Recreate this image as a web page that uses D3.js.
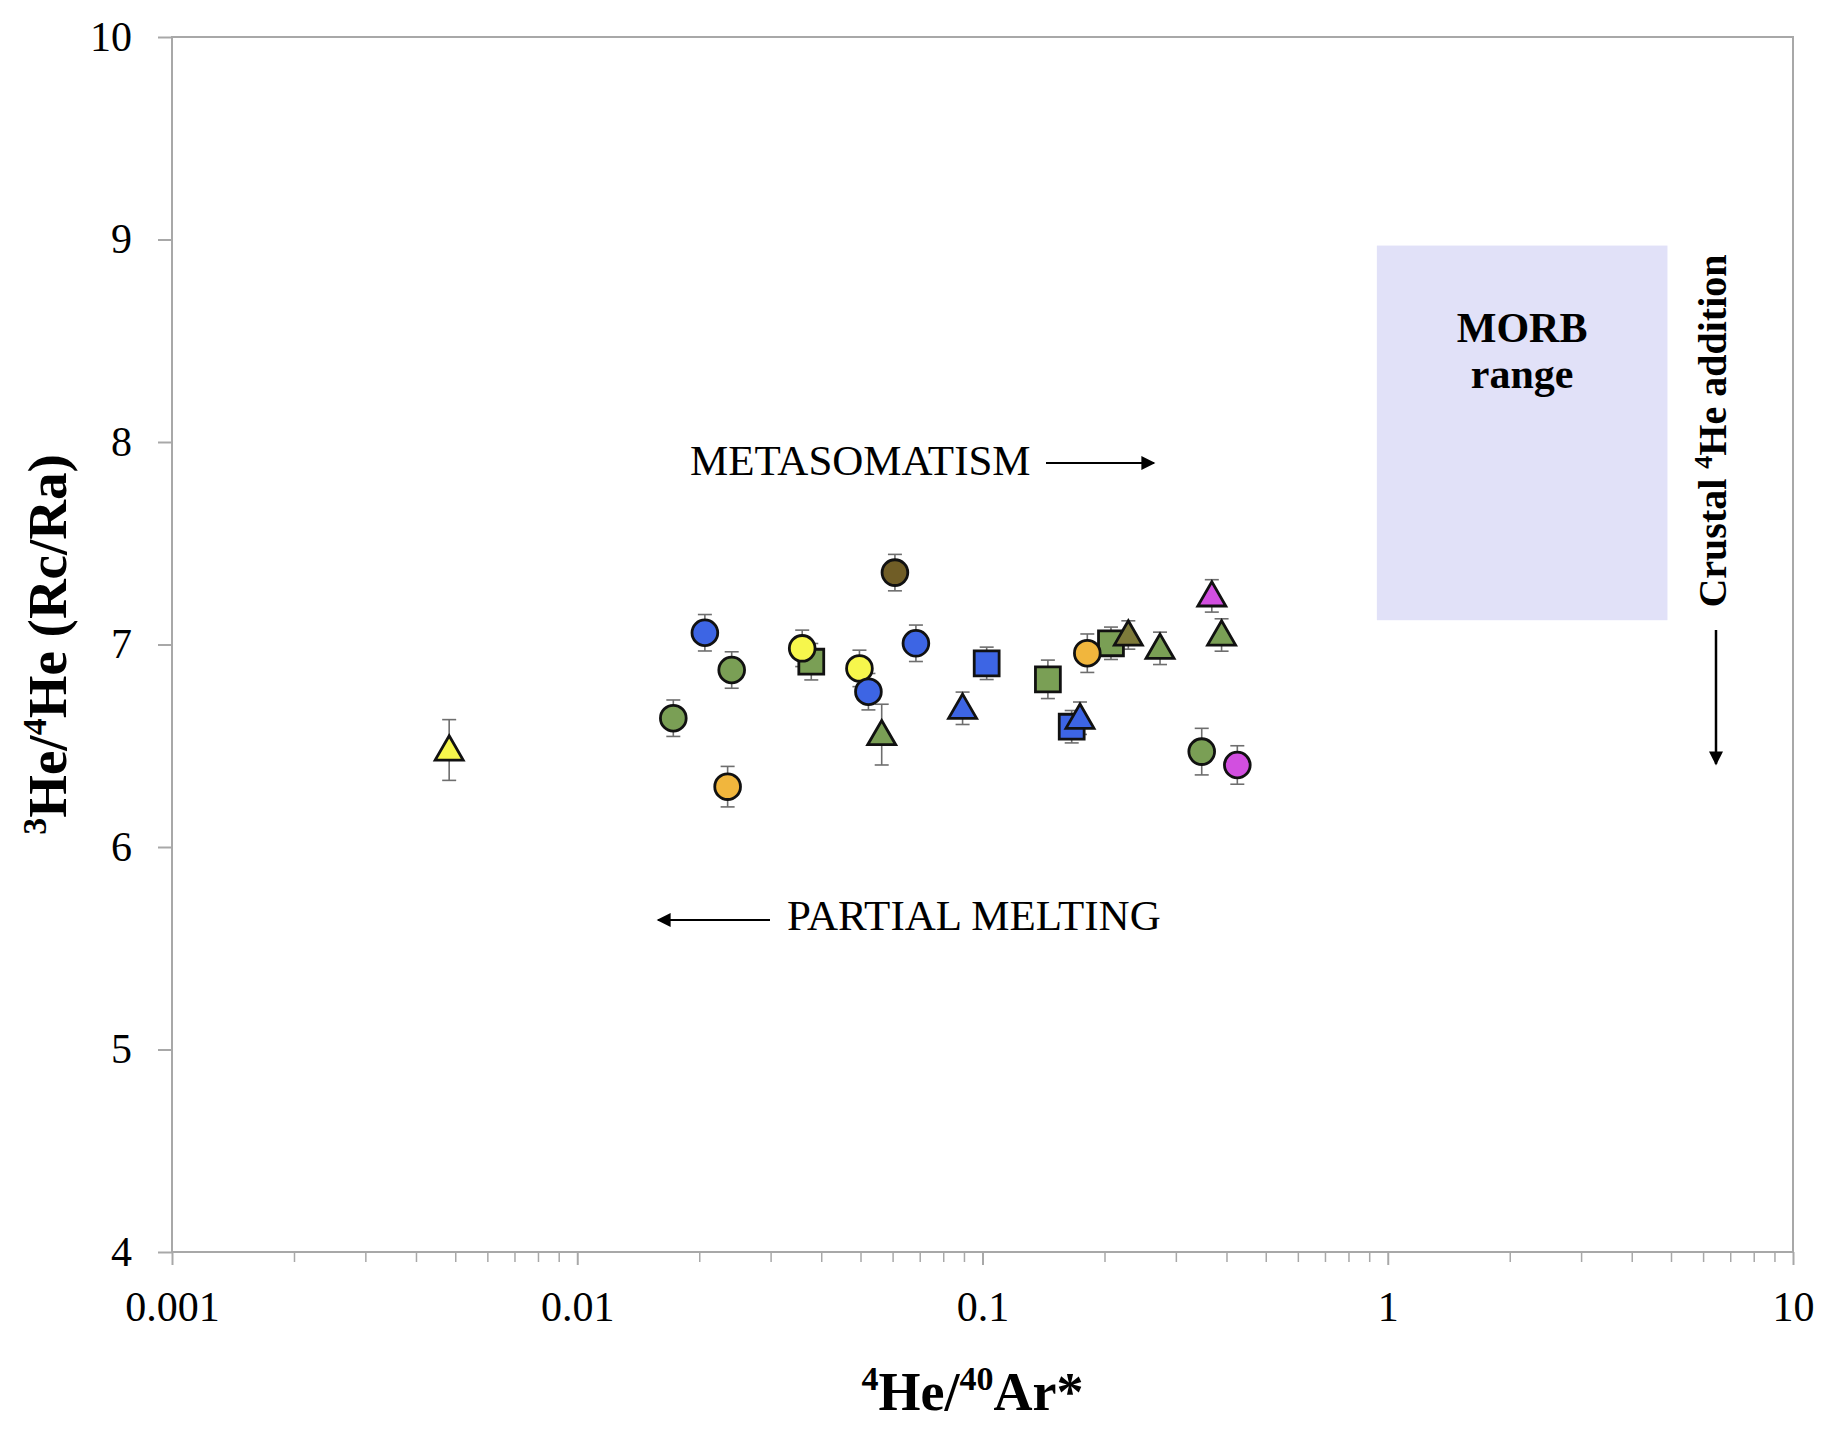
<!DOCTYPE html>
<html>
<head>
<meta charset="utf-8">
<script src="https://cdn.jsdelivr.net/npm/d3@7"></script>
<style>
  html, body { margin: 0; padding: 0; background: #fff; }
  svg text { font-family: "Liberation Serif", "Times New Roman", serif; fill: #000; }
</style>
</head>
<body>
<svg id="chart"></svg>
<script>
// Sample groups (marker shape + colour), drawn in this order
const groups = [
    "square-green", "square-green", "square-green",
    "square-blue", "square-blue",
    "circle-green", "circle-green", "circle-green",
    "circle-orange", "circle-orange",
    "circle-yellow", "circle-yellow",
    "circle-blue", "circle-blue", "circle-blue",
    "circle-brown", "circle-magenta",
    "triangle-yellow",
    "triangle-green", "triangle-green", "triangle-green",
    "triangle-blue", "triangle-blue",
    "triangle-olive", "triangle-magenta"
];
// 4He/40Ar*
const heAr = [
    0.0378, 0.145, 0.2075,
    0.1024, 0.166,
    0.01726, 0.02405, 0.3475,
    0.0235, 0.1814,
    0.0359, 0.0497,
    0.02065, 0.0523, 0.0685,
    0.0608, 0.4254,
    0.00483,
    0.0564, 0.2742, 0.389,
    0.0893, 0.174,
    0.229, 0.368
];
// 3He/4He (Rc/Ra)
const rcRa = [
    6.915, 6.828, 7.006,
    6.907, 6.594,
    6.636, 6.874, 6.471,
    6.298, 6.957,
    6.981, 6.882,
    7.058, 6.767, 7.006,
    7.355, 6.405,
    6.479,
    6.555, 6.981, 7.047,
    6.685, 6.636,
    7.047, 7.24
];
// 1 sigma error on Rc/Ra
const rcRaErr = [
    0.09, 0.095, 0.08,
    0.08, 0.08,
    0.09, 0.09, 0.115,
    0.1, 0.095,
    0.09, 0.09,
    0.09, 0.09, 0.09,
    0.09, 0.095,
    0.15,
    0.15, 0.08, 0.08,
    0.08, 0.08,
    0.07, 0.08
];

const xTicks = [0.001, 0.01, 0.1, 1, 10];
const xTickLabels = ["0.001", "0.01", "0.1", "1", "10"];
const yTicks = [4, 5, 6, 7, 8, 9, 10];

// MORB field
const morbX = [0.94, 4.9];
const morbY = [7.12, 8.97];

const colors = {
    green: "#7a9f55",
    blue: "#3d65e4",
    orange: "#f1b63d",
    yellow: "#f6f64c",
    brown: "#705d26",
    olive: "#7e7a3a",
    magenta: "#d24fe0"
};

const width = 1829, height = 1429;
const margin = { top: 37, right: 36, bottom: 177, left: 172 };

const svg = d3.select("#chart")
    .attr("width", width)
    .attr("height", height);

const x = d3.scaleLog()
    .domain([0.001, 10])
    .range([margin.left, width - margin.right]);
const y = d3.scaleLinear()
    .domain([4, 10])
    .range([height - margin.bottom, margin.top]);

const axisColor = "#a8a8a8";

// MORB box
svg.append("rect")
    .attr("x", x(morbX[0]))
    .attr("y", y(morbY[1]))
    .attr("width", x(morbX[1]) - x(morbX[0]))
    .attr("height", y(morbY[0]) - y(morbY[1]))
    .attr("fill", "#e1e1f8");

// plot frame
svg.append("rect")
    .attr("x", margin.left)
    .attr("y", margin.top)
    .attr("width", width - margin.right - margin.left)
    .attr("height", height - margin.bottom - margin.top)
    .attr("fill", "none")
    .attr("stroke", axisColor)
    .attr("stroke-width", 2);

// x axis: minor ticks
const minorTicks = [];
for (let d = 0.001; d < 10; d *= 10) {
    for (let k = 2; k <= 9; k++) minorTicks.push(+(d * k).toPrecision(3));
}
const xMinor = svg.append("g")
    .attr("transform", `translate(0,${y(4)})`)
    .call(d3.axisBottom(x).tickValues(minorTicks).tickSize(10).tickFormat(""));
xMinor.select(".domain").remove();
xMinor.selectAll("line").attr("stroke", axisColor).attr("stroke-width", 1.5);

// x axis: major ticks
const xAxis = svg.append("g")
    .attr("transform", `translate(0,${y(4)})`)
    .call(d3.axisBottom(x)
        .tickValues(xTicks)
        .tickSize(13)
        .tickPadding(26)
        .tickFormat((d, i) => xTickLabels[i]));
xAxis.select(".domain").remove();
xAxis.selectAll("line").attr("stroke", axisColor).attr("stroke-width", 2);
xAxis.selectAll("text")
    .attr("font-size", 42)
    .attr("font-family", "Liberation Serif");

// y axis
const yAxis = svg.append("g")
    .attr("transform", `translate(${margin.left},0)`)
    .call(d3.axisLeft(y).tickValues(yTicks).tickSize(14).tickPadding(26).tickFormat(d3.format("d")));
yAxis.select(".domain").remove();
yAxis.selectAll("line").attr("stroke", axisColor).attr("stroke-width", 2);
yAxis.selectAll("text")
    .attr("font-size", 42)
    .attr("font-family", "Liberation Serif");

// points
const points = groups.map((g, i) => ({
    shape: g.split("-")[0],
    color: colors[g.split("-")[1]],
    x: heAr[i],
    y: rcRa[i],
    err: rcRaErr[i]
}));

// error bars
const errG = svg.append("g")
    .attr("stroke", "#6e6e6e")
    .attr("stroke-width", 1.6);
points.forEach(d => {
    const cx = x(d.x);
    errG.append("line")
        .attr("x1", cx).attr("x2", cx)
        .attr("y1", y(d.y - d.err)).attr("y2", y(d.y + d.err));
    [d.y - d.err, d.y + d.err].forEach(v => {
        errG.append("line")
            .attr("x1", cx - 7).attr("x2", cx + 7)
            .attr("y1", y(v)).attr("y2", y(v));
    });
});

// markers
const symbolTypes = {
    circle: d3.symbolCircle,
    square: d3.symbolSquare,
    triangle: d3.symbolTriangle
};
const symbolSizes = { circle: 520, square: 620, triangle: 340 };

svg.append("g")
    .selectAll("path")
    .data(points)
    .join("path")
    .attr("d", d => d3.symbol().type(symbolTypes[d.shape]).size(symbolSizes[d.shape])())
    .attr("transform", d => `translate(${x(d.x)},${y(d.y) + (d.shape === "triangle" ? 2 : 0)})`)
    .attr("fill", d => d.color)
    .attr("stroke", "#111")
    .attr("stroke-width", 2.8);

// arrow head
svg.append("defs").append("marker")
    .attr("id", "head")
    .attr("viewBox", "0 0 10 10")
    .attr("refX", 9)
    .attr("refY", 5)
    .attr("markerUnits", "userSpaceOnUse")
    .attr("markerWidth", 17)
    .attr("markerHeight", 14)
    .attr("orient", "auto")
    .append("path")
    .attr("d", "M0,0 L10,5 L0,10 z")
    .attr("fill", "#000");

// annotations
svg.append("text")
    .attr("x", 690).attr("y", 475)
    .attr("font-size", 43)
    .text("METASOMATISM");
svg.append("line")
    .attr("x1", 1046).attr("x2", 1154)
    .attr("y1", 463).attr("y2", 463)
    .attr("stroke", "#000").attr("stroke-width", 2)
    .attr("marker-end", "url(#head)");

svg.append("text")
    .attr("x", 787).attr("y", 930)
    .attr("font-size", 43)
    .text("PARTIAL MELTING");
svg.append("line")
    .attr("x1", 770).attr("x2", 658)
    .attr("y1", 920).attr("y2", 920)
    .attr("stroke", "#000").attr("stroke-width", 2)
    .attr("marker-end", "url(#head)");

const morbCx = (x(morbX[0]) + x(morbX[1])) / 2;
svg.append("text")
    .attr("x", morbCx).attr("y", 342)
    .attr("text-anchor", "middle")
    .attr("font-size", 42).attr("font-weight", "bold")
    .text("MORB");
svg.append("text")
    .attr("x", morbCx).attr("y", 388)
    .attr("text-anchor", "middle")
    .attr("font-size", 42).attr("font-weight", "bold")
    .text("range");

// vertical crustal label
const crust = svg.append("text")
    .attr("transform", "translate(1726,431) rotate(-90)")
    .attr("text-anchor", "middle")
    .attr("font-size", 40).attr("font-weight", "bold");
crust.append("tspan").text("Crustal ");
crust.append("tspan").attr("font-size", 26).attr("dy", -14).text("4");
crust.append("tspan").attr("dy", 14).text("He addition");
svg.append("line")
    .attr("x1", 1716).attr("x2", 1716)
    .attr("y1", 630).attr("y2", 764)
    .attr("stroke", "#000").attr("stroke-width", 2.5)
    .attr("marker-end", "url(#head)");

// axis titles
const xTitle = svg.append("text")
    .attr("x", (margin.left + width - margin.right) / 2 - 10)
    .attr("y", 1410)
    .attr("text-anchor", "middle")
    .attr("font-size", 54).attr("font-weight", "bold");
xTitle.append("tspan").attr("font-size", 34).attr("dy", -20).text("4");
xTitle.append("tspan").attr("dy", 20).text("He/");
xTitle.append("tspan").attr("font-size", 34).attr("dy", -20).text("40");
xTitle.append("tspan").attr("dy", 20).text("Ar*");

const yTitle = svg.append("text")
    .attr("transform", `translate(66,${(margin.top + height - margin.bottom) / 2}) rotate(-90)`)
    .attr("text-anchor", "middle")
    .attr("font-size", 55).attr("font-weight", "bold");
yTitle.append("tspan").attr("font-size", 34).attr("dy", -20).text("3");
yTitle.append("tspan").attr("dy", 20).text("He/");
yTitle.append("tspan").attr("font-size", 34).attr("dy", -20).text("4");
yTitle.append("tspan").attr("dy", 20).text("He (Rc/Ra)");
</script>
</body>
</html>
